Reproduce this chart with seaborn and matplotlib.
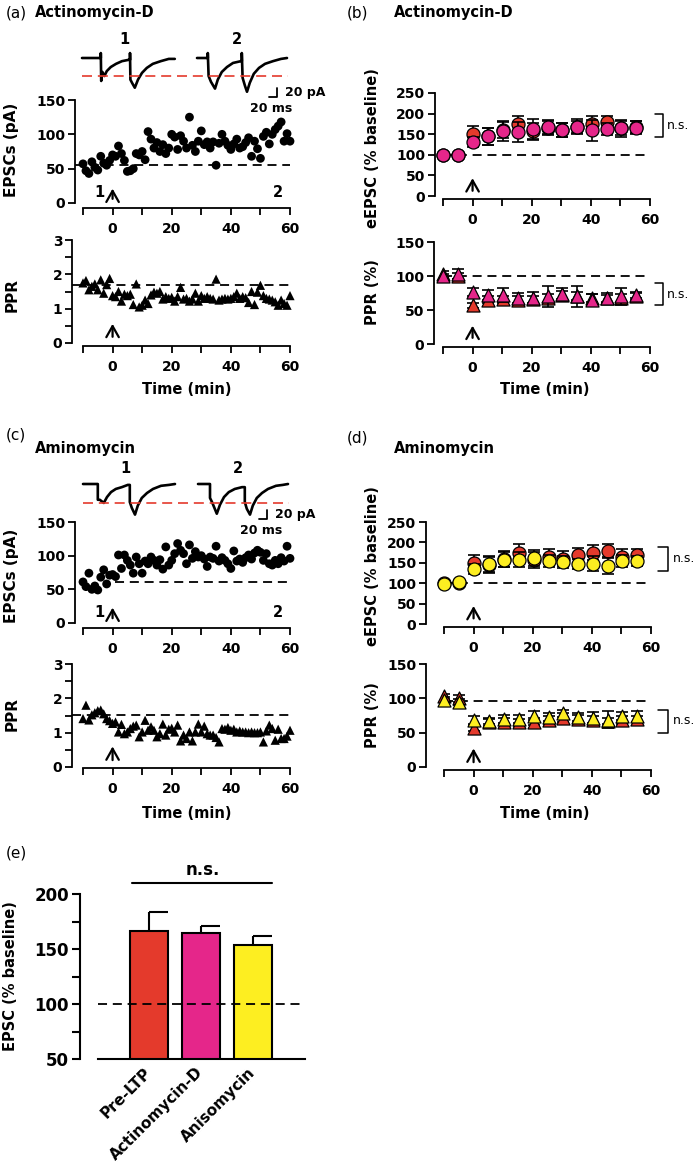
import matplotlib
matplotlib.use('agg')
import matplotlib.pyplot as plt
import numpy as np
import seaborn as sns

sns.set_style('ticks')
plt.rcParams['font.family'] = ['DejaVu Sans']
plt.rcParams['font.weight'] = 'bold'
plt.rcParams['axes.linewidth'] = 1.3
for key in ['text.color', 'axes.labelcolor', 'xtick.color', 'ytick.color', 'axes.edgecolor']:
    plt.rcParams[key] = 'black'

W, H = 700, 1163
RED = '#e43a2c'
MAGENTA = '#e5268a'
YELLOW = '#fdee21'

# ---- single cell time courses (one point per minute) ----
minutes = list(range(-10, 61))

actd_epsc = [57, 47, 43, 60, 52, 48, 68, 58, 55, 62,
             70, 68, 83, 72, 62, 46, 47, 50, 72, 70,
             75, 63, 104, 93, 80, 88, 75, 85, 72, 80,
             100, 96, 78, 98, 90, 80, 125, 84, 75, 90,
             105, 85, 89, 80, 89, 55, 87, 100, 90, 84,
             78, 86, 93, 80, 82, 88, 95, 68, 90, 79,
             65, 97, 103, 86, 100, 107, 112, 118, 90, 101, 90]
actd_ppr = [1.75, 1.82, 1.55, 1.65, 1.72, 1.55, 1.84, 1.45, 1.70, 1.88,
            1.38, 1.35, 1.50, 1.22, 1.42, 1.38, 1.42, 1.12, 1.72, 1.05,
            1.10, 1.25, 1.15, 1.40, 1.48, 1.45, 1.50, 1.28, 1.35, 1.30,
            1.33, 1.22, 1.35, 1.62, 1.28, 1.30, 1.22, 1.28, 1.45, 1.22,
            1.38, 1.30, 1.35, 1.30, 1.28, 1.86, 1.25, 1.28, 1.30, 1.28,
            1.30, 1.35, 1.45, 1.30, 1.35, 1.32, 1.18, 1.50, 1.12, 1.48,
            1.68, 1.38, 1.30, 1.28, 1.25, 1.20, 1.10, 1.25, 1.15, 1.10, 1.38]
aniso_epsc = [61, 54, 74, 50, 55, 49, 68, 79, 58, 71,
              72, 69, 101, 81, 101, 93, 86, 74, 98, 88,
              74, 92, 88, 98, 93, 86, 94, 80, 113, 86,
              93, 103, 118, 108, 103, 88, 116, 96, 106, 98,
              100, 95, 84, 98, 96, 114, 92, 97, 93, 88,
              81, 107, 92, 95, 90, 97, 101, 95, 104, 108,
              105, 93, 103, 88, 86, 93, 88, 97, 92, 114, 96]
aniso_ppr = [1.41, 1.80, 1.37, 1.52, 1.58, 1.64, 1.66, 1.55, 1.41, 1.35,
             1.27, 1.31, 1.02, 1.24, 0.97, 1.02, 1.12, 1.19, 1.22, 0.88,
             1.02, 1.36, 1.07, 1.17, 1.07, 0.88, 0.97, 1.25, 0.93, 1.10,
             1.13, 1.02, 1.22, 0.76, 0.93, 0.83, 1.02, 0.76, 1.02, 1.25,
             1.02, 1.19, 0.97, 0.93, 0.93, 0.86, 0.73, 1.12, 1.10, 1.15,
             1.07, 1.10, 1.02, 1.05, 1.02, 1.02, 1.00, 1.02, 1.00, 1.00,
             1.02, 0.73, 1.05, 1.22, 1.12, 0.78, 1.10, 0.83, 0.83, 0.90, 1.07]
actd_base_epsc, actd_base_ppr = 56, 1.68
aniso_base_epsc, aniso_base_ppr = 61, 1.51

# ---- example traces (ms, pA relative to baseline) ----
a_trace1_ms = [0, 47, 47, 48, 51, 56, 62, 72, 85, 100, 117, 120, 120, 121, 125, 132, 140, 150, 162, 177, 197, 217, 232]
a_trace1_pa = [0, 0, 11, -51, -31, -40, -29, -20, -13, -7, -4, -4, 11, -48, -55, -66, -48, -33, -22, -13, -7, -2, -2]
a_trace2_ms = [0, 27, 27, 29, 35, 45, 52, 62, 75, 90, 110, 112, 112, 114, 120, 125, 132, 142, 155, 170, 190, 210, 225]
a_trace2_pa = [0, 0, 11, -40, -53, -68, -48, -31, -20, -11, -7, -7, 11, -44, -62, -75, -55, -35, -22, -13, -7, -2, 0]
c_trace1_ms = [0, 37, 37, 42, 52, 60, 70, 82, 97, 112, 117, 117, 122, 130, 137, 147, 160, 175, 195, 215, 230]
c_trace1_pa = [0, 0, -35, -35, -42, -29, -18, -11, -7, -2, -2, -40, -53, -68, -48, -31, -20, -11, -4, -2, 0]
c_trace2_ms = [0, 30, 30, 35, 47, 55, 65, 77, 92, 110, 117, 117, 122, 130, 137, 147, 160, 175, 195, 212, 225]
c_trace2_pa = [0, 0, -31, -40, -66, -46, -29, -18, -11, -7, -7, -40, -55, -68, -48, -31, -20, -11, -4, -2, 0]

# ---- group averages (% of baseline) ----
bin_minutes = [-10, -5, 0.3, 5.3, 10.3, 15.4, 20.3, 25.4, 30.3, 35.4, 40.4, 45.3, 50.3, 55.3]
prel_epsc = [100, 100, 150, 145, 160, 175, 157, 165, 160, 168, 175, 180, 165, 168]
prel_epsc_sem = [3, 3, 20, 20, 20, 20, 20, 18, 18, 18, 18, 15, 18, 15]
actd_norm_epsc = [100, 100, 130, 145, 157, 155, 163, 168, 161, 167, 159, 162, 164, 166]
actd_norm_epsc_sem = [3, 3, 12, 21, 24, 25, 25, 17, 17, 15, 25, 14, 20, 15]
aniso_norm_epsc = [97, 103, 134, 147, 158, 158, 162, 155, 152, 147, 148, 142, 154, 154]
aniso_norm_epsc_sem = [3, 3, 12, 20, 18, 18, 20, 15, 15, 12, 18, 20, 15, 12]
prel_ppr = [103, 100, 57, 65, 66, 65, 66, 68, 72, 70, 68, 67, 68, 70]
prel_ppr_sem = [4, 5, 4, 5, 5, 5, 5, 6, 6, 6, 6, 5, 6, 5]
actd_norm_ppr = [100, 103, 77, 72, 72, 67, 68, 70, 73, 70, 65, 68, 70, 72]
actd_norm_ppr_sem = [3, 8, 6, 8, 10, 8, 9, 15, 10, 15, 8, 7, 12, 5]
aniso_norm_ppr = [98, 95, 68, 67, 70, 70, 75, 73, 78, 73, 72, 69, 74, 74]
aniso_norm_ppr_sem = [4, 4, 6, 5, 6, 6, 7, 6, 5, 6, 8, 12, 6, 8]

# ---- summary bars ----
groups = ['Pre-LTP', 'Actinomycin-D', 'Anisomycin']
bar_mean = [166.7, 164.5, 153.3]
bar_sem = [17, 6.7, 8.8]

fig = plt.figure(figsize=(W / 100, H / 100), dpi=100)


def px_axes(x0, y0, x1, y1):
    return fig.add_axes([x0 / W, 1 - y1 / H, (x1 - x0) / W, (y1 - y0) / H])


def ftext(x, y, s, **kw):
    kw.setdefault('ha', 'center')
    kw.setdefault('va', 'center')
    fig.text(x / W, 1 - y / H, s, **kw)


def time_axis(ax, yticks, left_px, bottom_px, minor=None):
    ax.set_xlim(-10, 60)
    ax.set_ylim(yticks[0], yticks[-1])
    ax.set_xticks(range(-10, 61, 10), labels=['', '0', '', '20', '', '40', '', '60'])
    ax.set_yticks(yticks)
    if minor is not None:
        ax.set_yticks(minor, minor=True)
    sns.despine(ax=ax, offset={'left': left_px * 0.72, 'bottom': bottom_px * 0.72})
    ax.spines['left'].set_bounds(yticks[0], yticks[-1])
    ax.spines['bottom'].set_bounds(-10, 60)
    ax.tick_params(which='both', direction='out', width=1.3, length=5, labelsize=10)
    ax.tick_params(axis='x', pad=5)
    ax.tick_params(axis='y', pad=2)
    ax.patch.set_alpha(0)
    ax.set_xlabel('')
    ax.set_ylabel('')


def arrow(ax, tail, head):
    ax.annotate('', xy=(0, head), xytext=(0, tail), annotation_clip=False,
                arrowprops=dict(arrowstyle='->,head_length=0.8,head_width=0.45', lw=1.6, color='k'))


def bracket(ax, x0, x1, ytop, ybot, xtext, ytext):
    ax.plot([x0, x1, x1, x0], [ytop, ytop, ybot, ybot], color='k', lw=1.1, clip_on=False)
    ax.text(xtext, ytext, 'n.s.', fontsize=9, fontweight='normal', va='center', ha='left')


def traces(box, base_px, tr1, tr2, starts, red_y, lab_y, bar):
    ax = px_axes(*box)
    top = (base_px - box[1]) * 2.22
    bot = -(box[3] - base_px) * 2.22
    ax.set_xlim(0, 550)
    ax.set_ylim(bot, top)
    ax.axis('off')
    for (t, i), s in zip((tr1, tr2), starts):
        ax.plot(np.array(t) + s, i, color='k', lw=1.9, solid_joinstyle='round')
    ax.plot([starts[0], starts[1] + 228], [red_y, red_y], color=RED, lw=1.2, ls=(0, (6, 3.5)))
    ax.text(starts[0] + 106, lab_y, '1', fontsize=10.5, ha='center', va='center')
    ax.text(starts[1] + 100, lab_y, '2', fontsize=10.5, ha='center', va='center')
    bx, by = bar
    ax.plot([bx - 20, bx, bx], [by, by, by + 20], color='k', lw=1.3, clip_on=False)
    ax.text(bx + 20, by + 10, '20 pA', fontsize=9, ha='left', va='center', clip_on=False)
    ax.text(bx - 15, by - 26, '20 ms', fontsize=9, ha='center', va='center')


def raw_panel(ax, y, marker, s):
    sns.scatterplot(x=minutes, y=y, ax=ax, color='k', marker=marker, s=s,
                    edgecolor='none', clip_on=False, zorder=3, legend=False)


def summary_panel(ax, series, marker):
    z = 2
    for vals, sems, col in series:
        ax.errorbar(bin_minutes, vals, yerr=sems, fmt='none', ecolor='k', elinewidth=1.2,
                    capsize=4.5, capthick=1.2, zorder=z)
        sns.scatterplot(x=bin_minutes, y=vals, ax=ax, marker=marker, s=88, color=col,
                        edgecolor='k', linewidth=0.9, zorder=z + 1, clip_on=False, legend=False)
        z += 2


def dashed(ax, x0, y, **kw):
    ax.plot([x0, 60], [y, y], color='k', lw=1.3, ls=(0, (5, 3.2)), clip_on=False, zorder=1, **kw)


# ================= (a) =================
ftext(16, 13, '(a)', fontsize=11, fontweight='normal')
ftext(35, 13, 'Actinomycin-D', fontsize=10.5, ha='left')
traces((80, 28, 300, 112), 58, (a_trace1_ms, a_trace1_pa), (a_trace2_ms, a_trace2_pa),
       (5, 292.5), -40, 40, (492.5, -86.6))

ax = px_axes(83, 100, 290, 203)
raw_panel(ax, actd_epsc, 'o', 40)
dashed(ax, -12.7, actd_base_epsc)
time_axis(ax, [0, 50, 100, 150], 8, 5)
arrow(ax, 2, 25)
ax.text(-4.5, 16, '1', fontsize=10.5, ha='center', va='center')
ax.text(56, 16, '2', fontsize=10.5, ha='center', va='center')
ftext(12, 150, 'EPSCs (pA)', fontsize=11, rotation=90)

ax = px_axes(83, 240, 290, 343)
raw_panel(ax, actd_ppr, '^', 44)
dashed(ax, -13.7, actd_base_ppr)
time_axis(ax, [0, 1, 2, 3], 11, 3, minor=[0.5, 1.5, 2.5])
arrow(ax, 0.1, 0.64)
ftext(12, 295, 'PPR', fontsize=11, rotation=90)
ftext(187, 390, 'Time (min)', fontsize=10.5)

# ================= (b) =================
ftext(357, 13, '(b)', fontsize=11, fontweight='normal')
ftext(394, 13, 'Actinomycin-D', fontsize=10.5, ha='left')

ax = px_axes(443, 93, 650, 196)
dashed(ax, -10, 100)
summary_panel(ax, [(prel_epsc, prel_epsc_sem, RED),
                   (actd_norm_epsc, actd_norm_epsc_sem, MAGENTA)], 'o')
time_axis(ax, [0, 50, 100, 150, 200, 250], 8, 3)
arrow(ax, 6, 50)
bracket(ax, 61.7, 64.4, 199, 143, 65.8, 171)
ftext(372, 148, 'eEPSC (% baseline)', fontsize=10.5, rotation=90)

ax = px_axes(443, 242, 650, 344)
dashed(ax, -10, 100)
summary_panel(ax, [(prel_ppr, prel_ppr_sem, RED),
                   (actd_norm_ppr, actd_norm_ppr_sem, MAGENTA)], '^')
time_axis(ax, [0, 50, 100, 150], 9, 3)
arrow(ax, 5, 31)
bracket(ax, 61.7, 64.4, 90, 57, 65.8, 73)
ftext(372, 292, 'PPR (%)', fontsize=10.5, rotation=90)
ftext(545, 390, 'Time (min)', fontsize=10.5)

# ================= (c) =================
ftext(16, 435, '(c)', fontsize=11, fontweight='normal')
ftext(35, 448, 'Aminomycin', fontsize=10.5, ha='left')
traces((80, 455, 300, 540), 484, (c_trace1_ms, c_trace1_pa), (c_trace2_ms, c_trace2_pa),
       (7.5, 295), -42, 35.5, (467.5, -77.7))

ax = px_axes(83, 522, 290, 623)
raw_panel(ax, aniso_epsc, 'o', 40)
dashed(ax, 0.8, aniso_base_epsc)
time_axis(ax, [0, 50, 100, 150], 8, 5)
arrow(ax, 3, 27)
ax.text(-4.5, 15, '1', fontsize=10.5, ha='center', va='center')
ax.text(56, 15, '2', fontsize=10.5, ha='center', va='center')
ftext(12, 576, 'EPSCs (pA)', fontsize=11, rotation=90)

ax = px_axes(83, 664, 290, 767)
raw_panel(ax, aniso_ppr, '^', 44)
dashed(ax, -13.7, aniso_base_ppr)
time_axis(ax, [0, 1, 2, 3], 11, 1, minor=[0.5, 1.5, 2.5])
arrow(ax, 0.12, 0.68)
ftext(12, 714, 'PPR', fontsize=11, rotation=90)
ftext(187, 813, 'Time (min)', fontsize=10.5)

# ================= (d) =================
ftext(357, 438, '(d)', fontsize=11, fontweight='normal')
ftext(394, 448, 'Aminomycin', fontsize=10.5, ha='left')

ax = px_axes(444, 522, 651, 624)
dashed(ax, -10, 100)
summary_panel(ax, [(prel_epsc, prel_epsc_sem, RED),
                   (aniso_norm_epsc, aniso_norm_epsc_sem, YELLOW)], 'o')
time_axis(ax, [0, 50, 100, 150, 200, 250], 18, 3)
arrow(ax, 7, 51)
bracket(ax, 62.4, 65.8, 189, 130, 67.3, 160)
ftext(372, 566, 'eEPSC (% baseline)', fontsize=10.5, rotation=90)

ax = px_axes(444, 664, 651, 767)
dashed(ax, -10, 96)
summary_panel(ax, [(prel_ppr, prel_ppr_sem, RED),
                   (aniso_norm_ppr, aniso_norm_ppr_sem, YELLOW)], '^')
time_axis(ax, [0, 50, 100, 150], 18, 3)
arrow(ax, 3, 31)
bracket(ax, 62.4, 65.8, 83, 50, 67.3, 67)
ftext(372, 715, 'PPR (%)', fontsize=10.5, rotation=90)
ftext(545, 813, 'Time (min)', fontsize=10.5)

# ================= (e) =================
ftext(16, 853, '(e)', fontsize=11, fontweight='normal')
ax = px_axes(98, 894, 305, 1059)
sns.barplot(x=groups, y=bar_mean, hue=groups, palette=[RED, MAGENTA, YELLOW], ax=ax,
            width=0.72, saturation=1, edgecolor='k', linewidth=1.5, errorbar=None, legend=False)
idx = np.arange(len(groups))
tops = np.array(bar_mean) + np.array(bar_sem)
ax.vlines(idx, bar_mean, tops, color='k', lw=1.5, zorder=4)
ax.hlines(tops, idx, idx + 0.36, color='k', lw=1.5, zorder=4)
ax.set_xlim(-0.98, 3.0)
ax.set_ylim(50, 200)
ax.plot([-0.98, 2.96], [100, 100], color='k', lw=1.3, ls=(0, (5, 3.2)), zorder=5)
ax.plot([-0.33, 2.37], [210, 210], color='k', lw=1.5, clip_on=False)
ax.text(1.03, 222, 'n.s.', fontsize=12, ha='center', va='center')
ax.set_yticks([50, 100, 150, 200])
ax.set_yticks([75, 125, 175], minor=True)
sns.despine(ax=ax, offset={'left': 13})
ax.spines['left'].set_bounds(50, 200)
ax.spines['left'].set_linewidth(1.5)
ax.spines['bottom'].set_linewidth(1.5)
ax.tick_params(axis='y', which='both', length=6, width=1.5, labelsize=12, pad=2)
ax.tick_params(axis='x', length=0, labelsize=11, pad=8)
for lab in ax.get_xticklabels():
    lab.set_rotation(45)
    lab.set_ha('right')
    lab.set_va('center')
    lab.set_rotation_mode('anchor')
ax.set_xlabel('')
ax.set_ylabel('')
ftext(11, 976, 'EPSC (% baseline)', fontsize=10.5, rotation=90)

fig.savefig('out.png', dpi=100)
